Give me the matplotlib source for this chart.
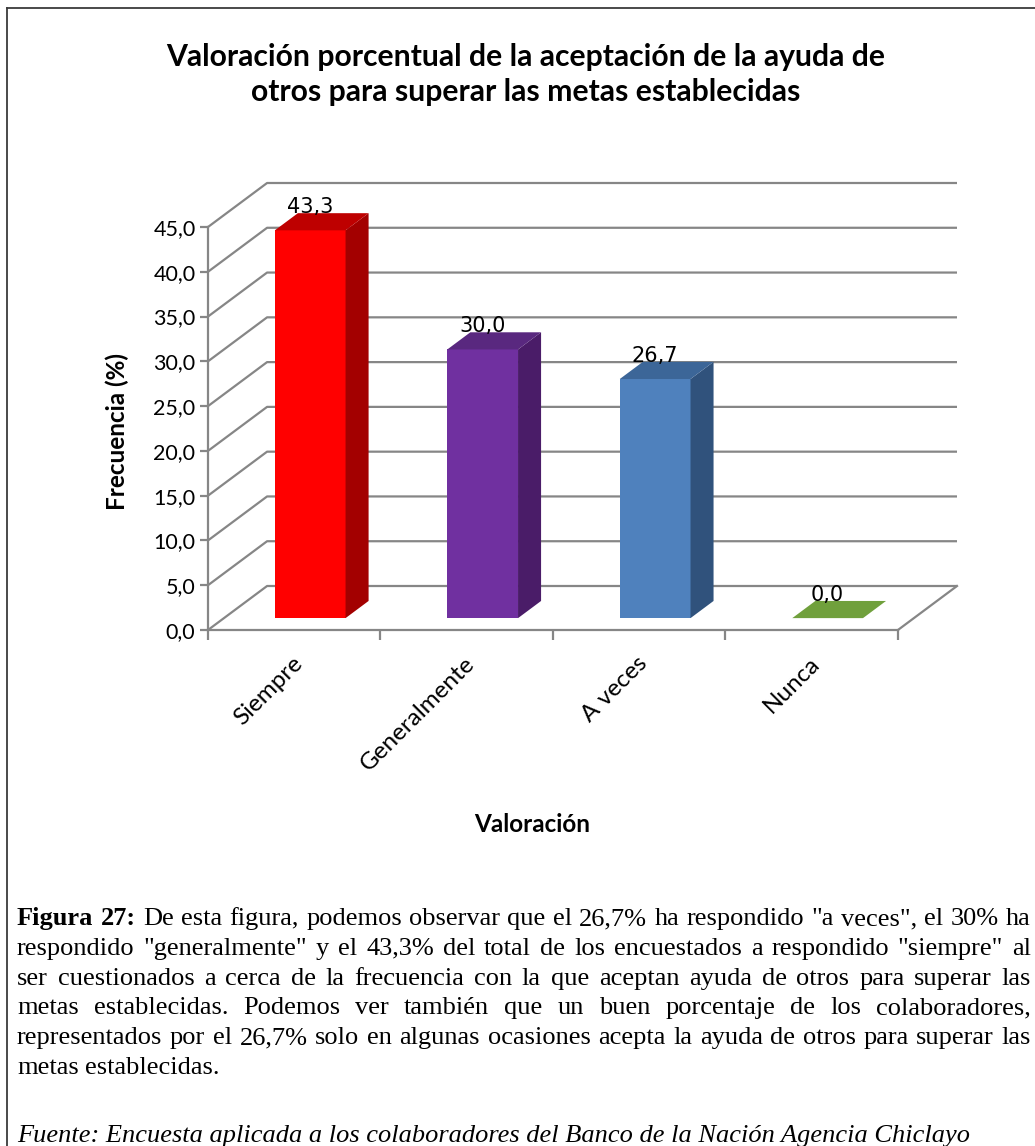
import matplotlib
matplotlib.use("Agg")
import matplotlib.pyplot as plt
from matplotlib.patches import Polygon
from matplotlib.lines import Line2D

# datos de la encuesta
categorias = ["Siempre", "Generalmente", "A veces", "Nunca"]
porcentajes = [43.3, 30.0, 26.7, 0.0]
marcas_y = [0, 5, 10, 15, 20, 25, 30, 35, 40, 45]

color_frente = ["#FF0000", "#7030A0", "#4F81BD", "#70A03C"]
color_lado = ["#A30000", "#4A1C68", "#30527C", "#4E7A28"]
color_tapa = ["#BE0000", "#59287F", "#3C6698", "#70A03C"]

titulo = ["Valoración porcentual de la aceptación de la ayuda de",
          "otros para superar las metas establecidas"]

parrafo = [
    'Figura 27: De esta figura, podemos observar que el 26,7% ha respondido "a veces", el 30% ha',
    'respondido "generalmente" y el 43,3% del total de los encuestados a respondido "siempre" al',
    'ser cuestionados a cerca de la frecuencia con la que aceptan ayuda de otros para superar las',
    'metas establecidas. Podemos ver también que un buen porcentaje de los colaboradores,',
    'representados por el 26,7% solo en algunas ocasiones acepta la ayuda de otros para superar las',
    'metas establecidas.',
]
fuente = "Fuente: Encuesta aplicada a los colaboradores del Banco de la Nación Agencia Chiclayo"

W, H = 1035, 1146
fig = plt.figure(figsize=(W / 100, H / 100), dpi=100)
fig.patch.set_facecolor("white")


def fx(px):
    return px / W


def fy(py):
    return 1 - py / H


gris = "#868686"
sans = "Lato"

# marco del grafico
fig.add_artist(Line2D([fx(7), fx(7)], [fy(8), 0], color="#3a3a3a", lw=1.3))
fig.add_artist(Line2D([fx(7), 1], [fy(8), fy(8)], color="#3a3a3a", lw=1.3))

# ejes: x en unidades de categoria, y en porcentaje
ax = fig.add_axes([fx(208), fy(630), fx(957) - fx(208), fy(183) - fy(630)])
DX, DY = 0.3425, 4.913          # profundidad de la caja 3D
d0, d1 = 0.27, 0.66             # posicion de las barras en profundidad
ancho = 0.41
n = len(categorias)
ax.set_xlim(0, n + DX)
ax.set_ylim(0, marcas_y[-1] + DY)
ax.patch.set_alpha(0)

for s in ["top", "right"]:
    ax.spines[s].set_visible(False)
for s in ["left", "bottom"]:
    ax.spines[s].set_color(gris)
    ax.spines[s].set_linewidth(1.6)
ax.spines["left"].set_bounds(0, marcas_y[-1])
ax.spines["bottom"].set_bounds(0, n)

ax.set_yticks(marcas_y)
ax.set_yticklabels([f"{v:.1f}".replace(".", ",") for v in marcas_y])
ax.set_xticks(range(n + 1))
ax.set_xticklabels([])
ax.tick_params(axis="y", length=6, width=1.6, color=gris, pad=3,
               labelsize=15.5, labelcolor="black")
ax.tick_params(axis="x", length=7, width=1.6, color=gris)
for t in ax.get_yticklabels():
    t.set_fontfamily(sans)

# paredes: lineas de division en pared lateral y fondo
for v in marcas_y:
    ax.plot([0, DX, n + DX], [v, v + DY, v + DY], color=gris, lw=1.6,
            clip_on=False, zorder=1, solid_capstyle="butt")
ax.plot([n, n + DX], [0, DY], color=gris, lw=1.6, clip_on=False, zorder=1)

# barras 3D
ddx, ddy = (d1 - d0) * DX, (d1 - d0) * DY
for i, v in enumerate(porcentajes):
    x0 = i + 0.5 - ancho / 2 + d0 * DX
    x1 = x0 + ancho
    y0 = d0 * DY
    y1 = y0 + v
    if v > 0:
        ax.add_patch(Polygon([(x0, y0), (x1, y0), (x1, y1), (x0, y1)],
                             closed=True, fc=color_frente[i], ec="none", zorder=3))
        ax.add_patch(Polygon([(x1, y0), (x1 + ddx, y0 + ddy), (x1 + ddx, y1 + ddy), (x1, y1)],
                             closed=True, fc=color_lado[i], ec="none", zorder=3))
    ax.add_patch(Polygon([(x0, y1), (x1, y1), (x1 + ddx, y1 + ddy), (x0 + ddx, y1 + ddy)],
                         closed=True, fc=color_tapa[i], ec="none", zorder=3))
    ax.text(i + 0.5 + d0 * DX, v + d1 * DY, f"{v:.1f}".replace(".", ","),
            ha="center", va="baseline", fontsize=15, family="DejaVu Sans",
            zorder=5, clip_on=False)

# etiquetas de categoria
for i, c in enumerate(categorias):
    ax.annotate(c, xy=(i + 0.5, 0), xytext=(5, -30), textcoords="offset pixels",
                rotation=45, rotation_mode="anchor", ha="right", va="center",
                fontsize=17.5, family=sans)

# titulos
fig.text(fx(526), fy(57), titulo[0], ha="center", va="center",
         fontsize=21.7, fontweight="bold", family=sans)
fig.text(fx(526), fy(92), titulo[1], ha="center", va="center",
         fontsize=21.7, fontweight="bold", family=sans)
fig.text(fx(117), fy(432), "Frecuencia (%)", rotation=90, ha="center", va="center",
         fontsize=17.5, fontweight="bold", family=sans)
fig.text(fx(532), fy(825), "Valoración", ha="center", va="center",
         fontsize=17.5, fontweight="bold", family=sans)

# parrafo justificado
renderer = fig.canvas.get_renderer()
serif = "Liberation Serif"
tam = 19
izq, der = 17, 1031
base0, paso = 925, 29.8


def palabra(x, y, txt, negrita):
    return fig.text(fx(x), fy(y), txt, ha="left", va="baseline", fontsize=tam,
                    family=serif, fontweight="bold" if negrita else "normal")


for k, linea in enumerate(parrafo):
    y = base0 + k * paso
    palabras = linea.split(" ")
    negritas = [k == 0 and j < 2 for j in range(len(palabras))]
    textos = [palabra(0, y, p, b) for p, b in zip(palabras, negritas)]
    anchos = [t.get_window_extent(renderer).width for t in textos]
    if k < len(parrafo) - 1:
        hueco = (der - izq - sum(anchos)) / (len(palabras) - 1)
    else:
        hueco = 0.25 * tam * 100 / 72
    x = izq
    for t, w in zip(textos, anchos):
        t.set_x(fx(x))
        x += w + hueco

fig.text(fx(izq), fy(1142), fuente, ha="left", va="baseline", fontsize=tam,
         family=serif, style="italic")

fig.savefig("out.png", dpi=100, facecolor="white")
